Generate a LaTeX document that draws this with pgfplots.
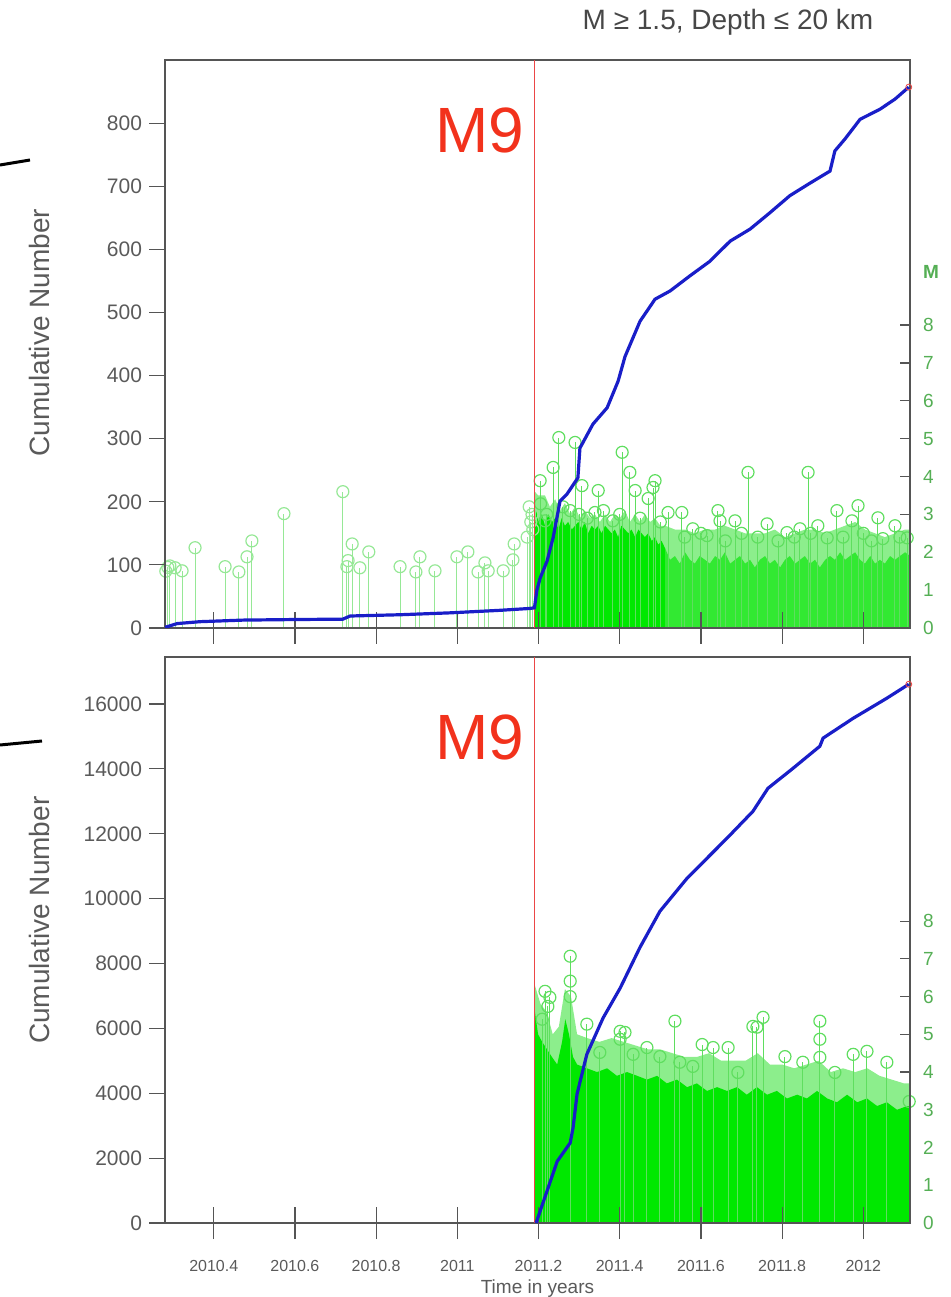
\documentclass[border=0pt]{standalone}
\usepackage{fontspec}
\setmainfont{Liberation Sans}
\usepackage{pgfplots}
\pgfplotsset{compat=1.18}
\definecolor{frameg}{RGB}{85,85,85}
\definecolor{tickg}{RGB}{90,90,90}
\definecolor{solidg}{RGB}{0,232,0}
\definecolor{solidr}{RGB}{50,233,50}
\definecolor{lightg}{RGB}{140,238,140}
\definecolor{stemg}{RGB}{95,222,95}
\definecolor{prestem}{RGB}{150,232,150}
\definecolor{mlab}{RGB}{85,175,85}
\definecolor{cblue}{RGB}{25,30,200}
\definecolor{mred}{RGB}{235,70,70}
\definecolor{mnine}{RGB}{242,50,28}
\pgfplotsset{
  panel/.style={scale only axis, width=372.5pt, xmin=2010.28, xmax=2012.115,
    scaled x ticks=false, scaled y ticks=false,
    /pgf/number format/assume math mode=true, /pgf/number format/1000 sep={}},
  maxis/.style={panel, ymin=0, ymax=15, axis x line=none, axis y line*=right,
    ytick={0,1,...,8}, tick align=inside, major tick length=5pt,
    ytick style={frameg, line width=0.6pt},
    yticklabel style={mlab, font=\fontsize{9.5}{11}\selectfont, xshift=3pt},
    axis line style={frameg, line width=1pt}},
  xaxis/.style={panel, ymin=0, ymax=1, axis x line*=bottom, axis y line=none,
    xtick={2010.4,2010.6,2010.8,2011,2011.2,2011.4,2011.6,2011.8,2012},
    tick align=center, major tick length=16pt,
    xtick style={frameg, line width=0.6pt},
    axis line style={frameg, line width=1pt}, ytick=\empty},
  caxis/.style={panel, axis line style={frameg,line width=1pt}, xtick=\empty,
    ytick pos=left, tick align=outside, major tick length=8pt,
    ytick style={frameg,line width=0.6pt},
    yticklabel style={tickg, font=\fontsize{10.5}{12}\selectfont},
    ylabel={Cumulative Number},
    axis background/.style={fill=none}},
  stems/.style={ycomb, stemg, line width=0.5pt, mark=o, mark size=3pt,
    mark options={solid, stemg, line width=0.6pt}},
}
\begin{document}
\begin{tikzpicture}
\path[use as bounding box] (0,0) rectangle (475pt,648.5pt);
% decorative marks at left
\draw[black, line width=1.5pt] (0pt,566pt) -- (15pt,568.5pt);
\draw[black, line width=1.5pt] (0pt,276pt) -- (21pt,278pt);
% title
\node[text=black!72, font=\fontsize{14}{16}\selectfont] at (364pt,637.5pt) {M ≥ 1.5, Depth ≤ 20 km};

%================ TOP PANEL =================
\begin{axis}[maxis, at={(82.5pt,334.5pt)}, height=284pt,
  extra y ticks={9.4}, extra y tick labels={\textbf{M}},
  extra y tick style={major tick length=0pt}]
% pre-M9 events
\addplot[ycomb, prestem, line width=0.5pt, mark=o, mark size=3pt,
  mark options={solid, prestem, line width=0.6pt}] coordinates {
(2010.282,1.50) (2010.287,1.60) (2010.292,1.64) (2010.305,1.59) (2010.322,1.51)
(2010.354,2.12) (2010.428,1.62) (2010.462,1.48) (2010.482,1.88) (2010.494,2.30)
(2010.573,3.02) (2010.718,3.60) (2010.728,1.62) (2010.731,1.78) (2010.741,2.22)
(2010.760,1.59) (2010.782,2.01) (2010.859,1.62) (2010.898,1.48) (2010.908,1.88)
(2010.945,1.51) (2010.999,1.88) (2011.026,2.01) (2011.051,1.48) (2011.068,1.72)
(2011.076,1.51) (2011.113,1.51) (2011.137,1.80) (2011.140,2.22)
(2011.172,2.40) (2011.177,3.20) (2011.181,2.80) (2011.184,3.00) (2011.186,2.60)};
% post-M9 dense events: envelope of circles
\addplot[fill=lightg, draw=none] coordinates {
(2011.190,0) (2011.191,3.6) (2011.199,3.5) (2011.216,3.5) (2011.228,3.2) (2011.241,3.4)
(2011.253,3.1) (2011.265,3.3) (2011.278,3.0) (2011.290,3.2) (2011.302,2.9) (2011.314,3.1)
(2011.327,2.9) (2011.339,3.0) (2011.351,2.8) (2011.364,3.0) (2011.376,2.8) (2011.388,3.0)
(2011.400,2.9) (2011.413,3.1) (2011.425,2.8) (2011.438,3.0) (2011.450,2.8) (2011.462,3.0)
(2011.475,2.8) (2011.487,2.9) (2011.500,2.7) (2011.512,2.7) (2011.536,2.6) (2011.561,2.6)
(2011.585,2.5) (2011.610,2.6) (2011.635,2.6) (2011.659,2.7) (2011.684,2.6) (2011.709,2.5)
(2011.733,2.5) (2011.758,2.5) (2011.782,2.6) (2011.807,2.4) (2011.832,2.5) (2011.856,2.6)
(2011.881,2.6) (2011.906,2.5) (2011.930,2.6) (2011.955,2.7) (2011.980,2.8) (2012.004,2.6)
(2012.029,2.5) (2012.053,2.4) (2012.078,2.5) (2012.103,2.6) (2012.115,2.6)} \closedcycle;
% post-M9 dense events: solid stems
\addplot[fill=solidg, draw=none] coordinates {
(2011.190,0) (2011.191,2.6) (2011.195,3.1) (2011.199,2.8) (2011.208,3.0) (2011.216,2.7)
(2011.224,3.0) (2011.233,2.8) (2011.241,2.9) (2011.249,2.6) (2011.257,2.9) (2011.265,2.7)
(2011.273,2.8) (2011.282,2.6) (2011.290,2.7) (2011.298,2.8) (2011.306,2.6) (2011.314,2.8)
(2011.322,2.5) (2011.331,2.7) (2011.339,2.6) (2011.347,2.7) (2011.355,2.5) (2011.364,2.7)
(2011.372,2.6) (2011.380,2.5) (2011.388,2.6) (2011.396,2.4) (2011.404,2.7) (2011.413,2.6)
(2011.421,2.5) (2011.429,2.6) (2011.438,2.4) (2011.446,2.6) (2011.454,2.5) (2011.462,2.4)
(2011.470,2.5) (2011.479,2.3) (2011.487,2.4) (2011.495,2.2) (2011.503,2.3) (2011.512,2.1)
(2011.512,0)} \closedcycle;
\addplot[fill=solidr, draw=none] coordinates {
(2011.512,0) (2011.512,2.1) (2011.524,1.8) (2011.536,1.9) (2011.548,1.7) (2011.561,2.0)
(2011.573,1.8) (2011.585,1.7) (2011.597,1.9) (2011.610,1.8) (2011.622,1.7) (2011.635,1.9)
(2011.647,1.8) (2011.659,2.0) (2011.672,1.7) (2011.684,1.8) (2011.696,1.9) (2011.709,1.7)
(2011.721,1.8) (2011.733,1.6) (2011.745,1.8) (2011.758,1.9) (2011.770,1.7) (2011.782,1.8)
(2011.795,1.6) (2011.807,1.8) (2011.819,1.9) (2011.832,1.7) (2011.844,1.8) (2011.856,1.9)
(2011.869,1.7) (2011.881,1.8) (2011.893,1.6) (2011.906,1.8) (2011.918,1.9) (2011.930,1.8)
(2011.943,2.0) (2011.955,1.8) (2011.967,1.9) (2011.980,2.0) (2011.992,1.8) (2012.004,1.7)
(2012.017,1.9) (2012.029,1.7) (2012.041,1.8) (2012.053,1.7) (2012.066,1.9) (2012.078,1.8)
(2012.090,1.9) (2012.103,2.0) (2012.115,1.9)} \closedcycle;
% individual larger events
\addplot[stems] coordinates {
(2011.250,5.03) (2011.290,4.90) (2011.236,4.24) (2011.406,4.64) (2011.425,4.11)
(2011.307,3.76) (2011.347,3.63) (2011.438,3.63) (2011.487,3.89) (2011.482,3.71)
(2011.470,3.42) (2011.339,3.05) (2011.519,3.05) (2011.553,3.05) (2011.716,4.11)
(2011.864,4.11) (2011.642,3.10) (2011.647,2.83) (2011.684,2.83) (2011.763,2.75)
(2011.935,3.10) (2011.987,3.23) (2011.972,2.83) (2012.036,2.91) (2012.078,2.70)
(2012.108,2.38) (2011.580,2.62) (2011.615,2.44) (2011.812,2.52) (2011.844,2.62)
(2011.888,2.70) (2011.911,2.38) (2012.048,2.36) (2011.204,3.89) (2011.205,3.28)
(2011.216,2.83) (2011.383,2.83) (2011.278,3.10)
(2011.220,3.00) (2011.260,3.20) (2011.300,3.00) (2011.320,2.90) (2011.360,3.10)
(2011.400,3.00) (2011.450,2.90) (2011.500,2.80) (2011.560,2.40) (2011.600,2.50)
(2011.660,2.30) (2011.700,2.50) (2011.740,2.40) (2011.790,2.30) (2011.830,2.40)
(2011.870,2.50) (2011.950,2.40) (2012.000,2.50) (2012.020,2.30) (2012.090,2.40)};
\end{axis}
\begin{axis}[xaxis, at={(82.5pt,334.5pt)}, height=284pt, xticklabels={}]
\end{axis}
\begin{axis}[caxis, at={(82.5pt,334.5pt)}, height=284pt, ymin=0, ymax=900,
  ytick={0,100,...,800},
  ylabel style={tickg, font=\fontsize{14}{16}\selectfont, at={(axis description cs:-0.168,0.52)}, anchor=center}]
\addplot[mred, line width=0.7pt] coordinates {(2011.19,0) (2011.19,900)};
\addplot[cblue, line width=1.6pt] coordinates {
(2010.280,1) (2010.310,7) (2010.366,10) (2010.472,12.5) (2010.613,13.5) (2010.718,14)
(2010.736,19) (2010.859,21) (2010.982,24) (2011.105,28) (2011.179,31) (2011.190,32)
(2011.196,60) (2011.204,79) (2011.221,106) (2011.236,143) (2011.253,201) (2011.270,212)
(2011.297,238) (2011.302,285) (2011.334,323) (2011.369,349) (2011.396,391) (2011.413,430)
(2011.450,486) (2011.487,521) (2011.524,534) (2011.573,558) (2011.622,581) (2011.672,613)
(2011.721,632) (2011.770,658) (2011.819,685) (2011.869,705) (2011.918,724) (2011.930,756)
(2011.955,775) (2011.992,806) (2012.041,822) (2012.078,838) (2012.112,857)};
\addplot[only marks, mark=o, mark size=1.5pt, mred] coordinates {(2012.112,857)};
\node[mnine, font=\fontsize{32}{36}\selectfont] at (axis cs:2011.056,789) {M9};
\end{axis}

%================ BOTTOM PANEL =================
\begin{axis}[maxis, at={(82.5pt,37pt)}, height=283pt]
\addplot[fill=lightg, draw=none] coordinates {
(2011.190,0) (2011.191,6.3) (2011.205,5.8) (2011.220,5.6) (2011.235,5.0) (2011.250,5.2)
(2011.265,6.2) (2011.280,6.0) (2011.295,5.0) (2011.320,4.9) (2011.350,4.8) (2011.380,4.9)
(2011.410,4.8) (2011.440,4.7) (2011.470,4.6) (2011.500,4.6) (2011.530,4.5) (2011.560,4.4)
(2011.590,4.4) (2011.620,4.5) (2011.650,4.3) (2011.680,4.3) (2011.710,4.3) (2011.740,4.5)
(2011.770,4.2) (2011.800,4.2) (2011.830,4.1) (2011.860,4.2) (2011.890,4.3) (2011.920,4.0)
(2011.950,4.1) (2011.980,4.0) (2012.010,4.1) (2012.040,3.9) (2012.070,3.8) (2012.100,3.7)
(2012.115,3.7)} \closedcycle;
\addplot[fill=solidg, draw=none] coordinates {
(2011.190,0) (2011.191,5.6) (2011.199,5.0) (2011.209,4.8) (2011.221,4.6) (2011.233,4.4)
(2011.246,4.2) (2011.258,4.8) (2011.266,5.4) (2011.275,5.0) (2011.285,4.4) (2011.295,4.2)
(2011.319,4.1) (2011.344,4.0) (2011.369,4.1) (2011.393,3.9) (2011.418,4.0) (2011.443,3.9)
(2011.467,3.8) (2011.492,3.9) (2011.516,3.7) (2011.541,3.8) (2011.566,3.6) (2011.590,3.7)
(2011.615,3.5) (2011.640,3.6) (2011.664,3.5) (2011.689,3.6) (2011.713,3.4) (2011.738,3.6)
(2011.763,3.4) (2011.787,3.5) (2011.812,3.3) (2011.837,3.4) (2011.861,3.3) (2011.886,3.5)
(2011.911,3.3) (2011.935,3.2) (2011.960,3.4) (2011.985,3.2) (2012.009,3.3) (2012.034,3.1)
(2012.058,3.2) (2012.083,3.0) (2012.108,3.1) (2012.115,3.1)} \closedcycle;
\addplot[stems] coordinates {
(2011.278,7.07) (2011.278,6.41) (2011.278,6.00) (2011.216,6.14) (2011.228,5.98)
(2011.209,5.40) (2011.223,5.74) (2011.319,5.27) (2011.401,5.08) (2011.413,5.05)
(2011.401,4.87) (2011.536,5.35) (2011.467,4.65) (2011.603,4.73) (2011.630,4.65)
(2011.667,4.65) (2011.728,5.21) (2011.753,5.45) (2011.738,5.19) (2011.893,5.35)
(2011.893,4.87) (2011.893,4.39) (2011.807,4.41) (2011.975,4.47) (2012.009,4.55)
(2012.058,4.26) (2011.930,3.99) (2011.691,3.99) (2011.851,4.26) (2012.113,3.22)
(2011.548,4.26) (2011.580,4.15) (2011.499,4.41) (2011.351,4.52) (2011.433,4.47)};
\end{axis}
\begin{axis}[xaxis, at={(82.5pt,37pt)}, height=283pt,
  xticklabels={2010.4,2010.6,2010.8,2011,2011.2,2011.4,2011.6,2011.8,2012},
  xticklabel style={tickg, font=\fontsize{8}{10}\selectfont, yshift=-7pt},
  xlabel={Time in years}, xlabel style={tickg, font=\fontsize{9.5}{11}\selectfont, yshift=2.5pt}]
\end{axis}
\begin{axis}[caxis, at={(82.5pt,37pt)}, height=283pt, ymin=0, ymax=17450,
  ytick={0,2000,...,16000},
  ylabel style={tickg, font=\fontsize{14}{16}\selectfont, at={(axis description cs:-0.168,0.535)}, anchor=center}]
\addplot[mred, line width=0.7pt] coordinates {(2011.19,0) (2011.19,17450)};
\addplot[cblue, line width=1.6pt] coordinates {
(2011.194,0) (2011.246,1900) (2011.278,2470) (2011.285,2930) (2011.295,3980) (2011.319,5200)
(2011.359,6320) (2011.401,7240) (2011.450,8500) (2011.499,9610) (2011.566,10630)
(2011.664,11860) (2011.728,12690) (2011.765,13400) (2011.827,14020) (2011.893,14700)
(2011.901,14950) (2011.975,15560) (2012.058,16180) (2012.112,16610)};
\addplot[only marks, mark=o, mark size=1.5pt, mred] coordinates {(2012.112,16610)};
\node[mnine, font=\fontsize{32}{36}\selectfont] at (axis cs:2011.056,14983) {M9};
\end{axis}
\end{tikzpicture}
\end{document}
